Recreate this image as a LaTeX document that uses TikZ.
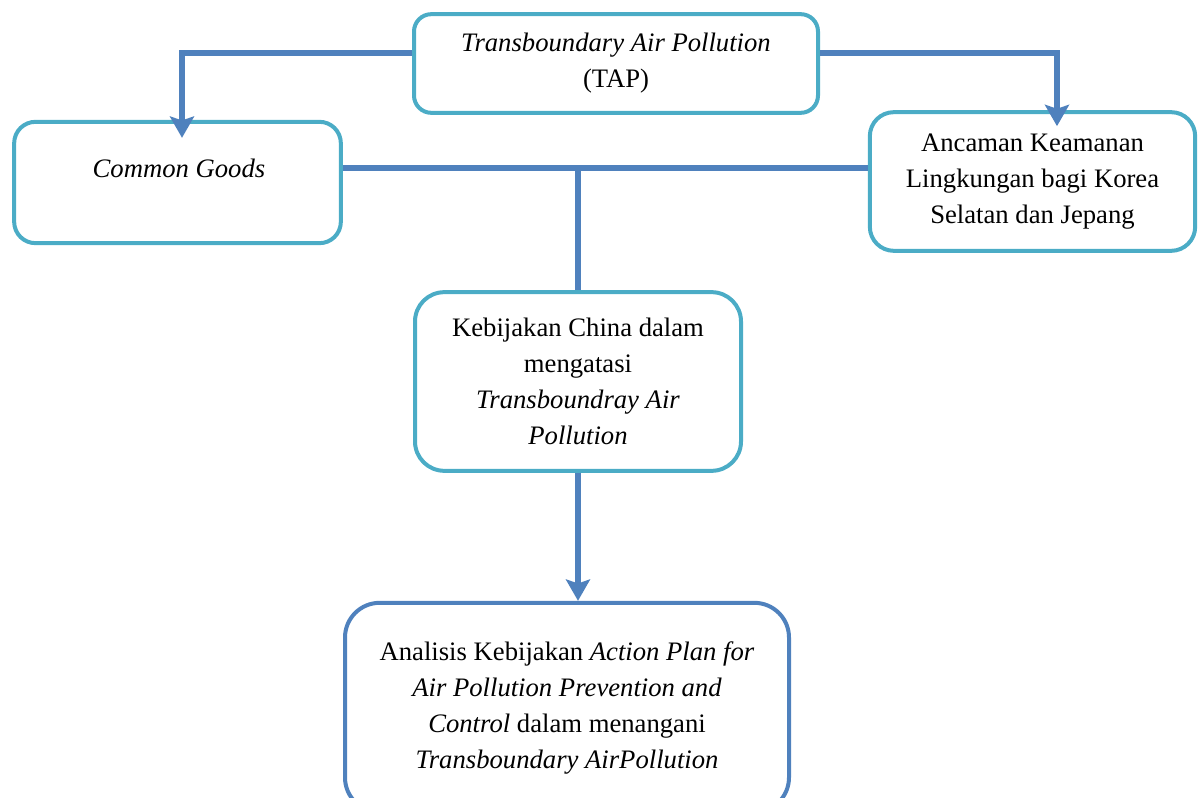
\documentclass[tikz,border=0pt]{standalone}
\usepackage{fontspec}
\setmainfont{Liberation Serif}
\usetikzlibrary{arrows.meta,calc}
\definecolor{boxteal}{HTML}{4BACC6}
\definecolor{linkblue}{HTML}{4F81BD}
\tikzset{
  box/.style={draw=boxteal, line width=3pt, align=center, inner sep=0pt},
  link/.style={draw=linkblue, line width=3.8pt},
  tip/.style={link, -{Stealth[length=16pt,width=18pt,inset=3pt]}}
}

\begin{document}
\begin{tikzpicture}[x=0.75pt,y=-0.75pt,font=\fontsize{20}{27}\selectfont]
\useasboundingbox (0,0) rectangle (1200,798);
% boxes
\node[box, rounded corners=13pt, minimum width=303pt, minimum height=74pt] (tap) at (616,63.5)
  {\textit{Transboundary Air Pollution}\\(TAP)};
\node[box, rounded corners=16pt, minimum width=245pt, minimum height=91pt] (common) at (177.5,182.5) {};
\node (commonText) at (179,168) {\textit{Common Goods}};
\node[box, rounded corners=18pt, minimum width=244pt, minimum height=104pt] (ancaman) at (1032.5,181.5)
  {Ancaman Keamanan\\Lingkungan bagi Korea\\Selatan dan Jepang};
\node[box, rounded corners=22pt, minimum width=244.5pt, minimum height=134pt] (kebijakan) at (578,381.5)
  {Kebijakan China dalam\\mengatasi\\\textit{Transboundray Air}\\\textit{Pollution}};
\node[box, draw=linkblue, rounded corners=26pt, minimum width=333pt, minimum height=157pt] (analisis) at (567,707.5)
  {Analisis Kebijakan \textit{Action Plan for}\\\textit{Air Pollution Prevention and}\\\textit{Control} dalam menangani\\\textit{Transboundary AirPollution}};
% connectors
\draw[tip] ($(tap.west)+(0,-10.5)$) -| ($(common.north)+(4.5,18)$);
\draw[tip] ($(tap.east)+(0,-10.5)$) -| ($(ancaman.north)+(24.5,16)$);
\draw[link] ($(common.east)+(0,-14.5)$) -- ($(ancaman.west)+(0,-13.5)$);
\draw[link] (kebijakan.north) -- ++(0,-122);
\draw[tip] (kebijakan.south) -- (kebijakan.south |- analisis.north);
\end{tikzpicture}
\end{document}
